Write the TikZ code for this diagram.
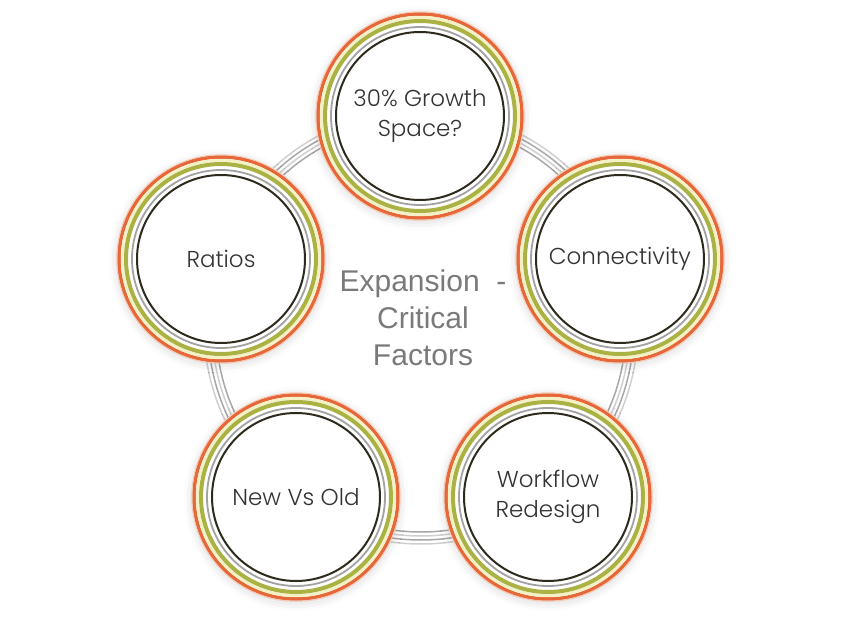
\documentclass[tikz,border=0pt]{standalone}
\usepackage{fontspec}
\setmainfont{Liberation Sans}
\newfontfamily\labelfont{Poppins Light}
\usetikzlibrary{positioning,shadows.blur}

\definecolor{ringorange}{HTML}{E6673A}
\definecolor{ringglow}{HTML}{F6C9B4}
\definecolor{ringcream}{HTML}{F5F1C6}
\definecolor{ringolive}{HTML}{AAB244}
\definecolor{ringgray}{HTML}{A2A2A2}
\definecolor{ringdark}{HTML}{2E2B1E}
\definecolor{linkgray}{HTML}{A8A8A8}
\definecolor{linklight}{HTML}{CFCFCF}
\definecolor{titlegray}{HTML}{7A7A7A}
\definecolor{labelgray}{HTML}{333333}

\begin{document}
\begin{tikzpicture}[x=1pt,y=1pt,
	factor/.style={circle,draw=ringorange,line width=3.5pt,fill=white,
		minimum size=204pt,inner sep=0pt,align=center,text=labelgray,
		font=\labelfont\fontsize{23}{30}\selectfont,
		blur shadow={shadow xshift=0pt,shadow yshift=-2pt,shadow blur radius=10pt,shadow opacity=20}}]
		\useasboundingbox (0,0) rectangle (860,-617);
		\coordinate (hub) at (421,-327);

		% ring behind the factors
		\foreach \r/\c in {-6/linkgray,-2/linklight,2/linkgray,6/linklight}
			\draw[\c,line width=1.5pt] (hub) circle ({211+\r});

		\draw (420,-116) node [factor] (growth) {30\% Growth\\Space?};
		\draw (221,-259) node [factor] (ratios) {Ratios};
		\draw (620,-259) node [factor] (conn) {Connectivity};
		\draw (296,-497) node [factor] (newold) {New Vs Old};
		\draw (548,-497) node [factor] (workflow) {Workflow\\Redesign};

		\foreach \n in {growth,ratios,conn,newold,workflow} {
			\draw[ringglow,line width=1pt] (\n) circle (104.2);
			\draw[ringcream,line width=3pt] (\n) circle (98.7);
			\draw[ringolive,line width=4pt] (\n) circle (95);
			\draw[ringgray,line width=1.8pt] (\n) circle (89);
			\draw[ringdark,line width=2pt] (\n) circle (84);
		}

		\draw (423,-318) node [align=center,text=titlegray,font=\fontsize{30}{37}\selectfont] (title) {Expansion\ \ -\\Critical\\Factors};
	\end{tikzpicture}
\end{document}
